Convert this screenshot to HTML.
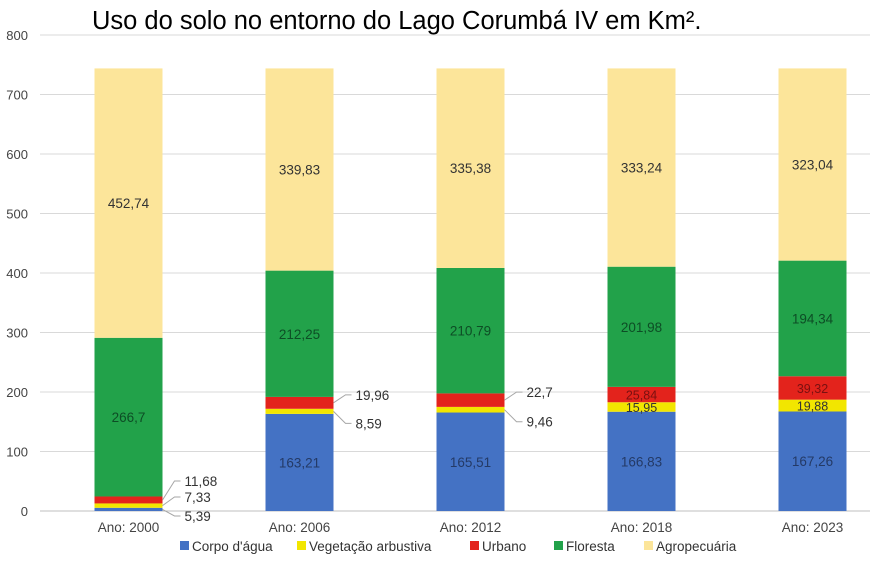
<!DOCTYPE html>
<html><head><meta charset="utf-8"><style>
body{margin:0;background:#fff;}
svg text{font-family:"Liberation Sans","DejaVu Sans",sans-serif;}
</style></head><body>
<svg id="chart" width="882" height="560" xmlns="http://www.w3.org/2000/svg">
<text x="92" y="29" font-size="25.5" fill="#000">Uso do solo no entorno do Lago Corumbá IV em Km².</text>
<g id="grid"></g><g id="bars"></g><g id="labels"></g><g id="legend"></g>
</svg>
<script>
const categories=["Ano: 2000","Ano: 2006","Ano: 2012","Ano: 2018","Ano: 2023"];
const seriesNames=["Corpo d'água","Vegetação arbustiva","Urbano","Floresta","Agropecuária"];
const corpo=[5.39,163.21,165.51,166.83,167.26];
const vegetacao=[7.33,8.59,9.46,15.95,19.88];
const urbano=[11.68,19.96,22.7,25.84,39.32];
const floresta=[266.7,212.25,210.79,201.98,194.34];
const agro=[452.74,339.83,335.38,333.24,323.04];
const yTicks=[0,100,200,300,400,500,600,700,800];
const colors=["#4472c4","#f2e600","#e3231c","#22a24a","#fce59a"];
const labelColors=["#243a66","#333","#7a1010","#0d4d25","#333"];
const NS="http://www.w3.org/2000/svg";
const x0=43,x1=870,y0=511,yMax=800,yTop=35;
const y=v=>y0-(v/yMax)*(y0-yTop);
const band=171;
const xc=i=>x0+band*(i+0.5);
const bw=68;
function mk(t,a,p){const e=document.createElementNS(NS,t);for(const k in a)e.setAttribute(k,a[k]);p.appendChild(e);return e;}
const grid=document.getElementById('grid');
yTicks.forEach(t=>{
  const l=mk('line',{x1:40,x2:x1,y1:y(t),y2:y(t),stroke:t===0?'#bfbfbf':'#d9d9d9','stroke-width':1},grid);
  
  
  const tx=mk('text',{x:28,y:y(t)+5,'text-anchor':'end','font-size':13,fill:'#444'},grid);
  tx.textContent=t;
  
  
});
const series=[corpo,vegetacao,urbano,floresta,agro];
const bars=document.getElementById('bars'),labels=document.getElementById('labels');
categories.forEach((c,i)=>{
  let acc=0;
  series.forEach((s,j)=>{
    const v=s[i];
    const r=mk('rect',{x:xc(i)-bw/2,y:y(acc+v),width:bw,height:y(acc)-y(acc+v),fill:colors[j]},bars);
    
    
    const lab=String(v).replace('.',',');
    const h=y(acc)-y(acc+v);
    const mid=(y(acc)+y(acc+v))/2;
    if(h>25){
      const t=mk('text',{x:xc(i),y:mid+5,'text-anchor':'middle','font-size':13.5,fill:labelColors[j]},labels);
      t.textContent=lab;
      
      
    } else if(i<3){
      let ly;
      if(i===0){ly=[y0+5,y0-14,y0-30][j];}
      else ly=j===1?mid+12:mid-8;
      mk('polyline',{points:`${xc(i)+bw/2},${mid} ${xc(i)+bw/2+12},${ly} ${xc(i)+bw/2+18},${ly}`,fill:'none',stroke:'#a6a6a6'},labels);
      const t=mk('text',{x:xc(i)+bw/2+22,y:ly+5,'font-size':13.5,fill:'#333'},labels);
      t.textContent=lab;
      
      
    } else {
      const t=mk('text',{x:xc(i),y:mid+5,'text-anchor':'middle','font-size':12.5,fill:labelColors[j]},labels);
      t.textContent=lab;
      
      
    }
    acc+=v;
  });
  const ct=mk('text',{x:xc(i),y:532,'text-anchor':'middle','font-size':13.5,fill:'#444'},labels);
  ct.textContent=c;
  
  
});
const leg=document.getElementById('legend');
const lx=[180,297,470,554,644];
seriesNames.forEach((n,j)=>{
  const r=mk('rect',{x:lx[j],y:541,width:9,height:9,fill:colors[j]},leg);
  
  
  const t=mk('text',{x:lx[j]+12,y:551,'font-size':13.5,fill:'#333'},leg);
  t.textContent=n;
  
  
});
</script>
</body></html>
